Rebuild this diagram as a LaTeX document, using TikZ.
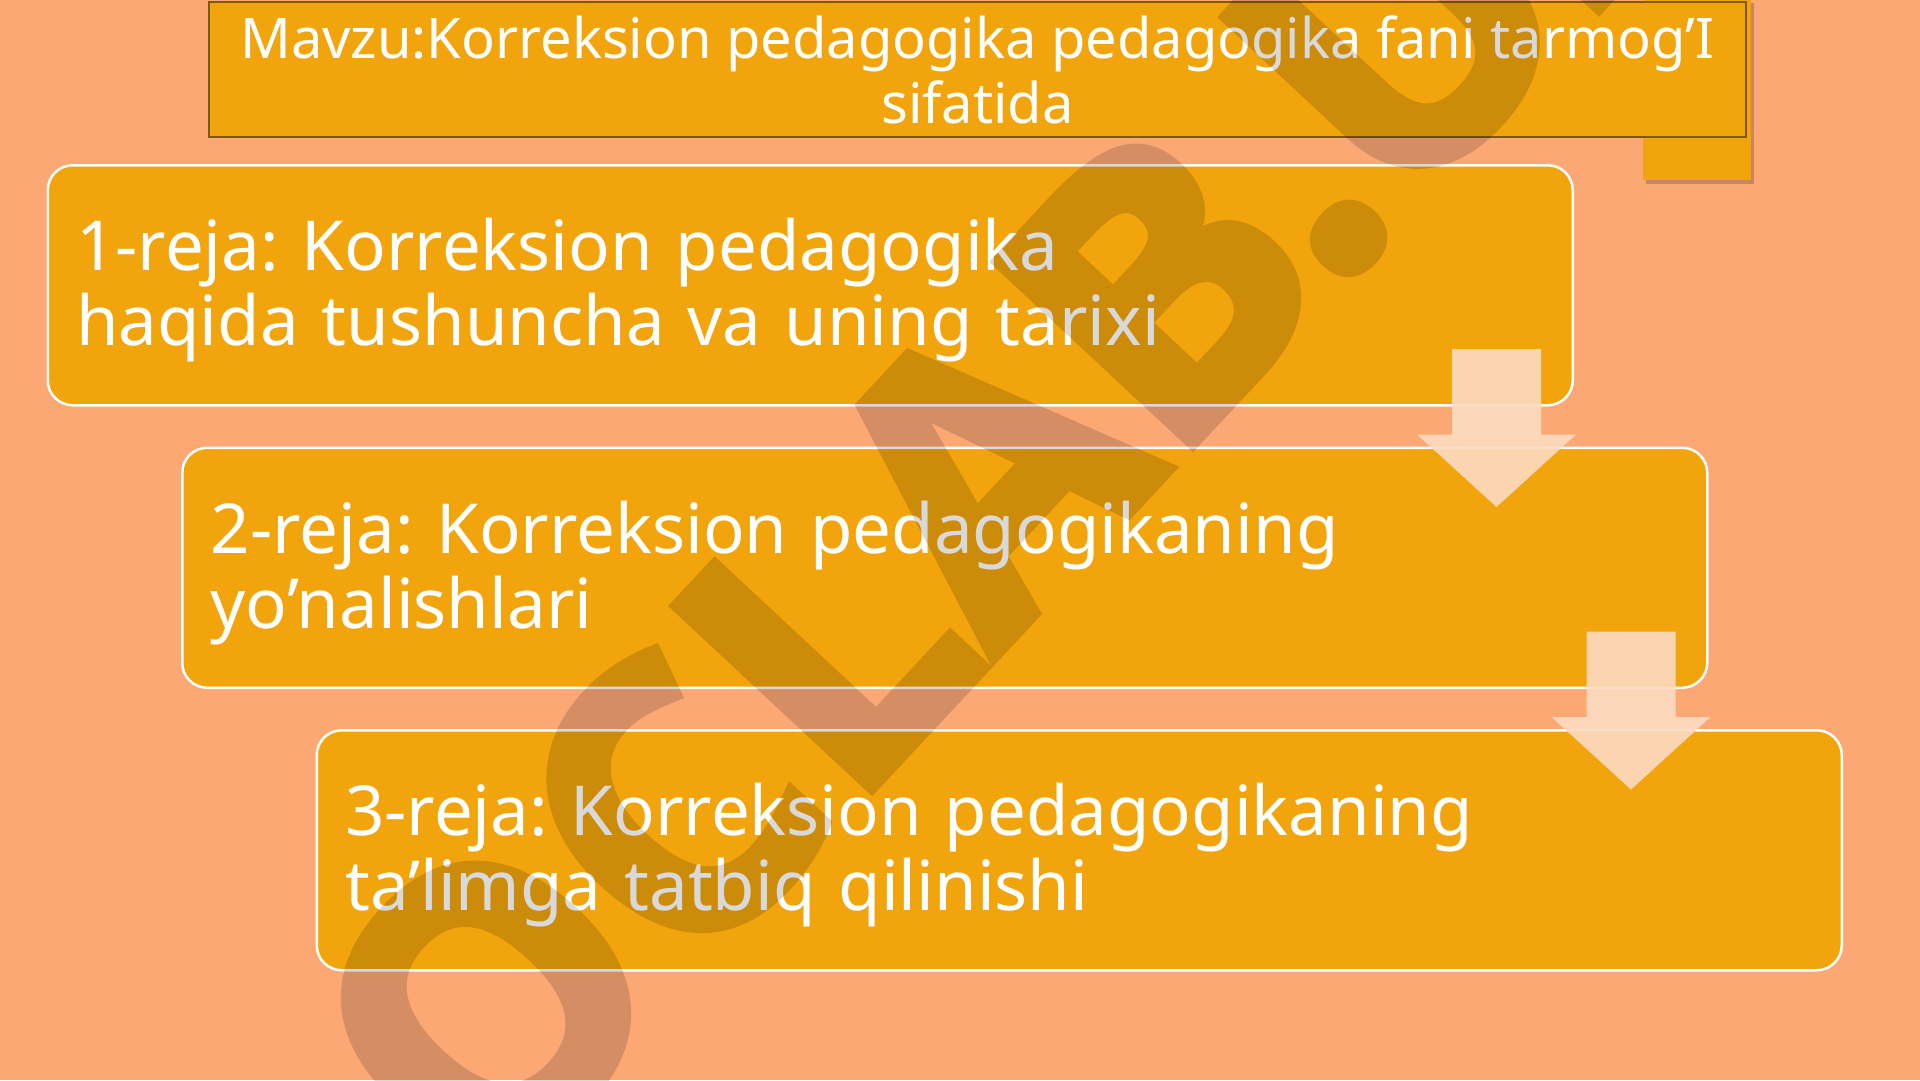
\documentclass[tikz,border=0pt]{standalone}
\usepackage{fontspec}
\setmainfont{Noto Sans}
\newfontfamily\wmfont{Open Sans}[BoldFeatures={FakeBold=3}]
\usetikzlibrary{positioning,calc}
\definecolor{slidebg}{HTML}{FBA875}
\definecolor{planfill}{HTML}{F2A40C}
\definecolor{titleline}{HTML}{7F5A0E}
\definecolor{arrowfill}{HTML}{FBDABF}
\newcommand{\downarr}[1]{%
  \fill[blockarr] (#1) ++(-44.5,0) -- ++(89,0) -- ++(0,85.5) -- ++(35,0)
    -- ++(-79.5,72.5) -- ++(-79.5,-72.5) -- ++(35,0) -- cycle;}
\tikzset{
   every path/.style={>=stealth},
   titlebox/.style={draw=titleline,line width=2pt,fill=planfill,minimum width=1537pt,minimum height=135pt,anchor=north west,inner sep=0pt},
   titletext/.style={text=white,align=center,font=\fontsize{56}{65}\selectfont},
   planbox/.style={draw=white,line width=2.5pt,fill=planfill,rounded corners=25pt,minimum width=1525pt,minimum height=240pt,anchor=north west,inner sep=0pt},
   plantext/.style={anchor=west,inner sep=0pt,text width=1466pt,align=left,text=white,font=\fontsize{69}{75}\selectfont},
   blockarr/.style={fill=arrowfill,opacity=0.92},
   tabshadow/.style={fill=black,opacity=0.2},
   wmark/.style={text=black,inner sep=0pt,font=\fontsize{375}{375}\wmfont\bfseries},
}
\begin{document}
\frenchspacing
\begin{tikzpicture}[x=1pt,y=-1pt]
      \fill[slidebg] (0,0) rectangle (1920,1080);
      \useasboundingbox (0,0) rectangle (1920,1080);
      % tab behind the title
      \fill[tabshadow] (1646,3) rectangle (1754,184);
      \fill[planfill] (1643,0) rectangle (1751,180);
      \node[titlebox] (title) at (208,1) {};
      \node[titletext] (mavzu) at (title.center) {Mavzu:Korreksion pedagogika pedagogika fani tarmog’I\\ sifatida};
      % plan boxes
      \node[planbox] (plan1) at (46.5,164) {};
      \node[planbox] (plan2) at (181,446.5) {};
      \node[planbox] (plan3) at (315.5,729) {};
      \node[plantext] (reja1) at ([xshift=29.5pt,yshift=-5pt]plan1.west) {1-reja: Korreksion pedagogika\\ haqida tushuncha va uning tarixi};
      \node[plantext] (reja2) at ([xshift=29.5pt,yshift=-5pt]plan2.west) {2-reja: Korreksion pedagogikaning\\ yo’nalishlari};
      \node[plantext] (reja3) at ([xshift=29.5pt,yshift=-5pt]plan3.west) {3-reja: Korreksion pedagogikaning\\ ta’limga tatbiq qilinishi};
      \coordinate (a1) at ($(plan1.south east)+(-77.5,-57.5)$);
      \coordinate (a2) at ($(plan2.south east)+(-77.5,-57.5)$);
      \downarr{a1}
      \downarr{a2}
      % watermark
      \begin{scope}[transparency group,opacity=0.15]
        \clip (0,0) rectangle (1920,1080);
        \node[wmark,rotate=47,anchor=base west] (wm) at (293,1409) {DOCLAB.UZ};
      \end{scope}
\end{tikzpicture}
\end{document}
